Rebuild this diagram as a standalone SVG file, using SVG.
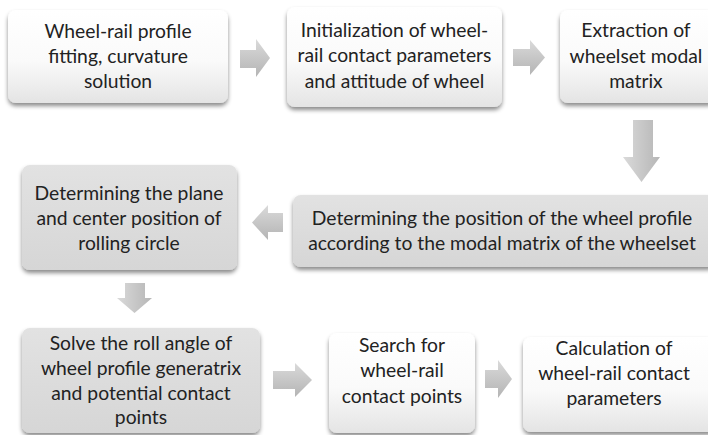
<svg xmlns="http://www.w3.org/2000/svg" width="708" height="435" viewBox="0 0 708 435">
<defs>
<linearGradient id="gw" x1="0" y1="0" x2="0" y2="1"><stop offset="0" stop-color="#ffffff"/><stop offset="0.55" stop-color="#fafafa"/><stop offset="1" stop-color="#e4e4e4"/></linearGradient>
<linearGradient id="gg" x1="0" y1="0" x2="0" y2="1"><stop offset="0" stop-color="#e2e2e2"/><stop offset="1" stop-color="#d6d6d6"/></linearGradient>
<linearGradient id="ga" x1="0" y1="0" x2="0" y2="1"><stop offset="0" stop-color="#dadada"/><stop offset="1" stop-color="#b4b4b4"/></linearGradient>
<linearGradient id="gad" x1="0" y1="0" x2="1" y2="0"><stop offset="0" stop-color="#dadada"/><stop offset="1" stop-color="#b6b6b6"/></linearGradient>
<filter id="sh" x="-10%" y="-10%" width="120%" height="130%"><feDropShadow dx="0" dy="3" stdDeviation="2.2" flood-color="#000" flood-opacity="0.45"/></filter>
</defs>
<style>
text{font-family:Lato,"Open Sans","Liberation Sans",sans-serif;font-size:19.3px;fill:#222;text-anchor:middle}
.w{fill:url(#gw);filter:url(#sh)}
.g{fill:url(#gg);filter:url(#sh)}
.a{fill:url(#ga)}
.ad{fill:url(#gad)}
</style>
<rect width="708" height="435" fill="#fff"/>
<g id="connectors">
<path class="a" d="M240,50 H256 V39 L270,58 L256,77 V68 H240 Z"/>
<path class="a" d="M513,49 H530 V40 L545,57.5 L530,75 V66 H513 Z"/>
<path class="ad" d="M633,120 H653 V157 H660 L641.5,182 L623,157 H633 Z"/>
<path class="a" d="M283,213 H268 V205 L252,222.5 L268,240 V232 H283 Z"/>
<path class="ad" d="M125,283 H145 V298 H152 L134.5,313 L117,298 H125 Z"/>
<path class="a" d="M273,371 H295 V363 L312,380 L295,397 V389 H273 Z"/>
<path class="a" d="M485,370 H498 V360 L512,379 L498,398 V388 H485 Z"/>
</g>
<g id="n1"><rect class="w" x="8" y="10" width="220" height="93" rx="8"/>
<text x="118" y="38">Wheel-rail profile</text><text x="118" y="63">fitting, curvature</text><text x="118" y="88">solution</text></g>
<g id="n2"><rect class="w" x="287" y="7" width="215" height="100" rx="8"/>
<text x="394.5" y="37">Initialization of wheel-</text><text x="394.5" y="62">rail contact parameters</text><text x="394.5" y="88">and attitude of wheel</text></g>
<g id="n3"><rect class="w" x="560" y="10" width="156" height="93" rx="8"/>
<text x="636" y="37">Extraction of</text><text x="636" y="63">wheelset modal</text><text x="636" y="88">matrix</text></g>
<g id="n4"><rect class="g" x="293" y="195" width="423" height="72" rx="8"/>
<text x="502" y="225">Determining the position of the wheel profile</text><text x="502" y="250">according to the modal matrix of the wheelset</text></g>
<g id="n5"><rect class="g" x="22" y="165" width="215" height="105" rx="8"/>
<text x="129" y="200">Determining the plane</text><text x="129" y="225">and center position of</text><text x="129" y="250">rolling circle</text></g>
<g id="n6"><rect class="g" x="22" y="328" width="238" height="105" rx="8"/>
<text x="141" y="350">Solve the roll angle of</text><text x="141" y="375">wheel profile generatrix</text><text x="141" y="400">and potential contact</text><text x="141" y="424">points</text></g>
<g id="n7"><rect class="w" x="329" y="333" width="146" height="100" rx="8"/>
<text x="402" y="352">Search for</text><text x="402" y="377">wheel-rail</text><text x="402" y="403">contact points</text></g>
<g id="n8"><rect class="w" x="523" y="337" width="193" height="95" rx="8"/>
<text x="614" y="355">Calculation of</text><text x="614" y="380">wheel-rail contact</text><text x="614" y="405">parameters</text></g>
</svg>
